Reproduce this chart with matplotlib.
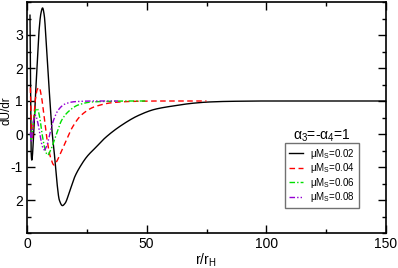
import numpy as np
import matplotlib
matplotlib.use("Agg")
import matplotlib.pyplot as plt
from matplotlib.ticker import MultipleLocator
from matplotlib.transforms import IdentityTransform

plt.rcParams['font.family'] = ['Liberation Sans', 'DejaVu Sans']
plt.rcParams['mathtext.fontset'] = 'custom'
plt.rcParams['mathtext.rm'] = 'Liberation Sans'
plt.rcParams['mathtext.it'] = 'Liberation Sans:italic'

# muMs = 0.02
r_k = [1.25, 1.4, 1.55, 1.7, 2.0, 2.8, 3.5, 4.2, 5.0, 5.8, 6.5, 7.2, 8.0, 8.6, 9.6,
       10.5, 11.3, 12.4, 13.5, 14.8, 15.9, 18.0, 20, 22.2, 25, 29.1, 32.6, 39.6, 46.5,
       53.5, 62, 69, 76, 85, 100, 120, 150]
y_k = [3.6, 2.2, 0.6, -0.5, -0.79, 0.0, 1.1, 2.04, 3.1, 3.65, 3.82, 3.6, 2.8, 2.04, 1.0,
       0.05, -0.5, -1.39, -2.0, -2.17, -2.1, -1.7, -1.29, -0.99, -0.69, -0.38, -0.12, 0.27,
       0.56, 0.75, 0.86, 0.93, 0.97, 0.99, 1.0, 1.0, 1.0]

# muMs = 0.04
r_r = [1.4, 1.7, 2.1, 2.8, 3.6, 4.3, 5.1, 6.0, 7.2, 8.4, 9.8, 11.3, 12.5, 14.0, 15.9,
       18.7, 22.8, 28.4, 36.8, 45, 55, 65, 75]
y_r = [1.41, 0.4, -0.18, 0.45, 1.1, 1.35, 1.41, 1.15, 0.5, -0.18, -0.7, -0.94, -0.82,
       -0.58, -0.28, 0.17, 0.58, 0.83, 0.96, 0.99, 1.0, 1.0, 1.0]

# muMs = 0.06
r_g = [1.4, 1.8, 2.5, 3.3, 4.2, 5.2, 6.3, 7.5, 8.6, 9.8, 11.7, 14.5, 17.3, 21.4, 27,
       34, 42, 50]
y_g = [0.0, -0.2, 0.3, 0.65, 0.78, 0.55, 0.0, -0.45, -0.64, -0.5, -0.13, 0.42, 0.68,
       0.88, 0.97, 0.99, 1.0, 1.0]

# muMs = 0.08
r_p = [1.4, 1.8, 2.5, 3.5, 4.5, 5.5, 6.3, 7.2, 8.3, 9.5, 11.0, 13.1, 15.9, 20, 28, 38]
y_p = [0.05, -0.25, 0.3, 0.57, 0.35, -0.05, -0.35, -0.48, -0.35, 0.0, 0.4, 0.73, 0.91,
       0.98, 1.0, 1.0]

labels = ['0.02', '0.04', '0.06', '0.08']
xticks = [0, 50, 100, 150]
yticks = [3, 2, 1, 0, -1, -2]
ytick_labels = ['3', '2', '1', '0', '-1', '2']


def smooth(rs, ys):
    # monotone cubic through the read points
    rs = np.asarray(rs, float)
    ys = np.asarray(ys, float)
    xx = []
    yy = []
    h = np.diff(rs)
    d = np.diff(ys) / h
    m = np.zeros_like(ys)
    m[0], m[-1] = d[0], d[-1]
    for i in range(1, len(ys) - 1):
        if d[i - 1] * d[i] <= 0:
            m[i] = 0
        else:
            w1 = 2 * h[i] + h[i - 1]
            w2 = h[i] + 2 * h[i - 1]
            m[i] = (w1 + w2) / (w1 / d[i - 1] + w2 / d[i])
    for i in range(len(h)):
        t = np.linspace(0, 1, 40, endpoint=False)
        h00 = 2 * t**3 - 3 * t**2 + 1
        h10 = t**3 - 2 * t**2 + t
        h01 = -2 * t**3 + 3 * t**2
        h11 = t**3 - t**2
        xx.append(rs[i] + t * h[i])
        yy.append(h00 * ys[i] + h10 * h[i] * m[i] + h01 * ys[i + 1] + h11 * h[i] * m[i + 1])
    xx.append([rs[-1]])
    yy.append([ys[-1]])
    return np.concatenate(xx), np.concatenate(yy)


fig = plt.figure(figsize=(3.98, 2.68), dpi=100)
ax = fig.add_axes([27 / 398, 1 - 233 / 268, 359 / 398, 231 / 268])

series = [(r_k, y_k, 'black', '-'),
          (r_r, y_r, 'red', (0, (4, 2.5))),
          (r_g, y_g, '#00e000', (0, (4, 1.5, 1, 1.5))),
          (r_p, y_p, '#9400d3', (0, (4, 1.5, 1, 1.5, 1, 1.5)))]
for (rs, ys, c, ls), lab in zip(series, labels):
    x, y = smooth(rs, ys)
    ax.plot(x, y, color=c, ls=ls, lw=1.0,
            label='\u03bcM$_\\mathrm{S}$=' + lab)

ax.set_xlim(0, 150)
ax.set_ylim(-3, 4)
ax.set_xticks(xticks)
ax.set_yticks(yticks)
ax.set_yticklabels(ytick_labels)
ax.xaxis.set_minor_locator(MultipleLocator(25))
ax.yaxis.set_minor_locator(MultipleLocator(0.5))
ax.tick_params(which='both', direction='in', top=True, right=True, labelsize=10, pad=3)
ax.tick_params(which='major', length=6, width=1)
ax.tick_params(which='minor', length=3, width=1)
for s in ax.spines.values():
    s.set_linewidth(1.2)

ax.set_xlabel('r/r$_\\mathrm{H}$', fontsize=10)
ax.xaxis.set_label_coords(179 / 359, -19 / 231)
ax.set_ylabel('dU/dr', fontsize=8.5)
ax.yaxis.set_label_coords(-15 / 359, 0.528)

fig.text(322, 268 - 136, '\u03b1$_3$=-\u03b1$_4$=1', fontsize=10, ha='center',
         va='center', transform=IdentityTransform())

leg = ax.legend(loc='upper left', bbox_to_anchor=(258 / 359, 1 - 141 / 231), fontsize=7,
                frameon=True, fancybox=False, edgecolor='0.3', handlelength=1.45,
                borderpad=0.4, labelspacing=0.05, handletextpad=0.7, borderaxespad=0)
leg.get_frame().set_linewidth(1.0)

fig.savefig('out.png', dpi=100)
